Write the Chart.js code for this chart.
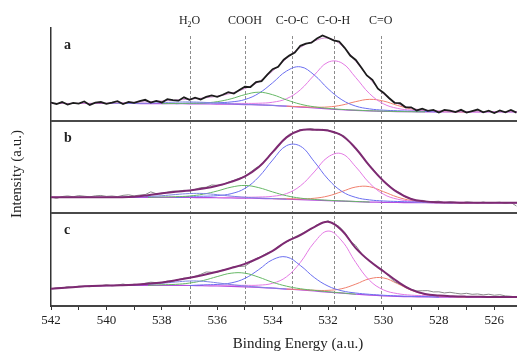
<!DOCTYPE html>
<html lang="en">
<head>
<meta charset="UTF-8">
<title>O 1s XPS spectra</title>
<style>
    body, html {
        margin: 0;
        background-color: #fff;
    }
    .chart-box {
        position: relative;
        width: 517px;
        height: 355px;
    }
</style>
</head>
<body>
<div class="chart-box"><canvas id="xpsChart"></canvas></div>

<script src="https://cdn.jsdelivr.net/npm/chart.js"></script>
<script>
    const _ = null;

    // peak assignments (dashed lines) and panel names
    const peakLabels = ['H2O', 'COOH', 'C-O-C', 'C-O-H', 'C=O'];
    const peakEnergy = [537.0, 535.0, 533.3, 531.8, 530.1];
    const panelNames = ['a', 'b', 'c'];

    // energy grid of the fitted curves (eV)
    const fitE = [542, 541.5, 541, 540.5, 540, 539.5, 539, 538.5, 538, 537.5, 537, 536.5, 536, 535.5, 535, 534.5, 534, 533.5, 533, 532.5,
        532, 531.5, 531, 530.5, 530, 529.5, 529, 528.5, 528, 527.5, 527, 526.5, 526, 525.5, 525];

    // energy grid of the measured spectra (eV)
    const rawE = [542, 541.8, 541.6, 541.4, 541.2, 541, 540.8, 540.6, 540.4, 540.2,
        540, 539.8, 539.6, 539.4, 539.2, 539, 538.8, 538.6, 538.4, 538.2,
        538, 537.8, 537.6, 537.4, 537.2, 537, 536.8, 536.6, 536.4, 536.2,
        536, 535.8, 535.6, 535.4, 535.2, 535, 534.8, 534.6, 534.4, 534.2,
        534, 533.8, 533.6, 533.4, 533.2, 533, 532.8, 532.6, 532.4, 532.2,
        532, 531.8, 531.6, 531.4, 531.2, 531, 530.8, 530.6, 530.4, 530.2,
        530, 529.8, 529.6, 529.4, 529.2, 529, 528.8, 528.6, 528.4, 528.2,
        528, 527.8, 527.6, 527.4, 527.2, 527, 526.8, 526.6, 526.4, 526.2,
        526, 525.8, 525.6, 525.4, 525.2];

    // ---- panel a ----
    const rawA = [19.4, 18.0, 20.1, 17.4, 19.1, 18.4, 20.8, 17.0, 19.4, 20.1,
        18.1, 19.4, 21.1, 18.0, 20.2, 19.3, 21.1, 22.5, 19.6, 21.3,
        19.7, 23.2, 22.2, 21.6, 25.2, 22.6, 24.8, 22.9, 25.7, 27.3,
        25.7, 28.0, 30.8, 29.3, 33.1, 36.6, 36.3, 41.7, 42.7, 49.5,
        55.6, 58.1, 65.8, 70.2, 73.5, 80.8, 83.1, 84.2, 88.6, 92.0,
        89.5, 86.6, 85.4, 78.6, 70.3, 65.5, 57.4, 48.8, 44.0, 34.5,
        30.2, 24.5, 19.3, 18.9, 14.5, 14.4, 11.0, 12.9, 10.6, 11.6,
        8.7, 11.7, 10.8, 9.2, 11.7, 8.7, 10.4, 12.0, 9.0, 10.7,
        8.2, 11.0, 9.1, 11.5, 8.7];
    const envA = [18.6, 18.6, 18.7, 18.8, 19.0, 19.3, 19.8, 20.4, 21.2, 22.2, 23.2, 24.5, 26.4, 29.6, 34.6, 42.0, 53.5, 67.0, 79.0, 86.0,
        89.0, 81.0, 64.0, 45.5, 29.0, 18.5, 13.5, 11.3, 10.5, 10.1, 9.9, 9.8, 9.7, 9.7, 9.7];
    const bgA = [18.5, 18.5, 18.5, 18.5, 18.5, 18.5, 18.5, 18.4, 18.4, 18.3, 18.2, 18.1, 17.9, 17.7, 17.4, 17.0, 16.4, 15.6, 14.7, 13.7,
        12.7, 11.8, 11.1, 10.5, 10.1, 9.8, 9.6, 9.5, 9.4, 9.4, 9.4, 9.4, 9.4, 9.4, 9.4];
    const h2oA = [_, _, _, _, 18.5, 18.55, 18.7, 18.9, 19.4, 20.0, 20.2, 19.8, 18.9, 18.2, 17.6, 17.1, 16.45, 15.6, _, _,
        _, _, _, _, _, _, _, _, _, _, _, _, _, _, _];
    const coohA = [_, _, _, _, _, _, _, _, 18.4, 18.6, 18.7, 19.1, 20.5, 23.6, 28.1, 30.7, 28.0, 22.45, 17.8, 14.95,
        13.25, 12.15, 11.35, 10.7, 10.25, 9.9, 9.65, 9.5, _, _, _, _, _, _, _];
    const cocA = [_, _, _, _, _, _, _, _, _, 18.3, 18.9, 19.0, 19.3, 20.2, 22.8, 29.5, 40.9, 53.5, 58.1, 49.3,
        34.45, 22.5, 15.7, 12.7, 11.35, 10.7, 10.3, 10.0, 9.4, _, _, _, _, _, _];
    const cohA = [_, _, _, _, _, _, _, _, _, _, _, _, 17.9, 18.6, 18.6, 18.8, 19.9, 23.7, 33.3, 49.1,
        63.1, 62.2, 46.5, 29.1, 18.2, 13.3, 11.4, 10.7, 10.3, 10.1, 9.7, 9.4, _, _, _];
    const coA = [_, _, _, _, _, _, _, _, _, _, _, _, _, _, _, _, _, 15.6, 15.1, 14.6,
        14.8, 16.8, 20.55, 23.0, 21.15, 16.5, 12.7, 10.7, 9.95, 9.7, 9.4, _, _, _, _];

    // ---- panel b ----
    const rawB = [17.6, 16.1, 18.1, 18.8, 17.9, 19.1, 18.5, 17.8, 18.9, 19.3,
        18.3, 18.7, 18.0, 19.4, 20.0, 18.8, 19.7, 20.2, 23.2, 21.2,
        21.0, 22.8, 24.0, 23.9, 24.9, 24.2, 25.9, 27.7, 28.1, 30.6,
        30.2, 30.9, 33.8, 35.5, 38.0, 39.5, 44.5, 49.0, 52.4, 59.5,
        66.8, 72.5, 79.6, 85.2, 87.5, 90.4, 90.5, 91.5, 89.7, 90.6,
        89.8, 86.9, 85.7, 83.1, 76.7, 70.5, 62.7, 54.6, 48.8, 41.1,
        34.7, 30.0, 25.0, 22.1, 17.2, 15.8, 13.5, 14.0, 12.4, 12.7,
        13.1, 11.4, 12.5, 11.9, 11.0, 12.4, 11.9, 11.0, 12.2, 11.1,
        11.6, 12.0, 10.6, 11.7, 7.9];
    const envB = [17.3, 17.3, 17.3, 17.3, 17.3, 17.4, 18.0, 19.6, 21.6, 23.3, 24.6, 26.7, 29.7, 34.0, 40.0, 50.0, 66.0, 82.0, 89.7, 90.2,
        89.3, 84.0, 70.0, 51.2, 35.0, 22.8, 15.5, 12.9, 11.9, 11.6, 11.5, 11.45, 11.4, 11.4, 11.4];
    const bgB = [17.3, 17.3, 17.3, 17.3, 17.3, 17.3, 17.3, 17.3, 17.25, 17.2, 17.1, 17.0, 16.8, 16.6, 16.4, 16.1, 15.8, 15.3, 14.8, 14.25,
        13.7, 13.15, 12.6, 12.2, 11.9, 11.7, 11.5, 11.4, 11.3, 11.3, 11.3, 11.3, 11.3, 11.3, 11.3];
    const h2oB = [_, _, _, _, _, 17.3, 17.7, 18.15, 19.0, 20.3, 21.35, 21.4, 20.15, 18.6, 17.35, 16.55, 16.0, 15.3, _, _,
        _, _, _, _, _, _, _, _, _, _, _, _, _, _, _];
    const coohB = [_, _, _, _, _, _, _, 17.3, 17.65, 17.95, 18.7, 20.7, 24.1, 28.2, 30.1, 27.7, 23.1, 19.0, 16.4, 15.0,
        14.1, 13.4, 12.8, 12.2, _, _, _, _, _, _, _, _, _, _, _];
    const cocB = [_, _, _, _, _, _, _, _, _, 17.2, 18.2, 18.45, 19.1, 21.2, 26.9, 39.3, 57.5, 73.0, 72.5, 55.95,
        36.9, 23.65, 17.2, 14.5, 13.35, 12.8, 12.35, 12.05, 11.9, 11.3, _, _, _, _, _];
    const cohB = [_, _, _, _, _, _, _, _, _, _, _, _, 16.8, 17.4, 17.4, 17.6, 18.4, 21.3, 29.6, 44.65,
        60.8, 64.25, 50.2, 32.5, 20.7, 15.3, 13.3, 12.55, 12.15, 12.0, 11.85, 11.3, _, _, _];
    const coB = [_, _, _, _, _, _, _, _, _, _, _, _, _, _, _, _, 15.8, 15.75, 15.65, 16.25,
        18.7, 23.5, 28.4, 28.75, 23.4, 17.6, 13.9, 12.4, 11.8, 11.65, 11.3, _, _, _, _];

    // ---- panel c ----
    const rawC = [18.6, 19.5, 19.3, 20.9, 20.0, 21.4, 21.3, 20.8, 22.1, 21.8,
        22.9, 21.8, 22.6, 23.7, 22.4, 23.5, 22.8, 24.6, 25.7, 25.2,
        25.2, 26.9, 26.8, 28.5, 30.1, 30.1, 32.1, 34.1, 36.7, 36.4,
        36.4, 39.0, 39.9, 42.4, 42.6, 43.0, 46.9, 51.0, 53.6, 57.1,
        59.1, 64.1, 67.8, 70.5, 74.5, 77.5, 80.3, 83.1, 87.6, 89.6,
        92.0, 89.0, 85.8, 79.5, 70.1, 65.3, 57.0, 50.6, 46.6, 41.5,
        38.0, 31.8, 26.3, 23.6, 21.1, 18.0, 16.3, 16.5, 16.6, 15.2,
        15.3, 14.1, 14.8, 13.8, 13.0, 13.7, 12.6, 13.0, 12.0, 12.7,
        11.6, 12.2, 10.9, 10.5, 9.7];
    const envC = [18.6, 19.8, 20.8, 21.5, 22.0, 22.4, 23.0, 24.0, 25.4, 27.7, 30.4, 33.5, 37.0, 41.0, 45.5, 51.8, 59.5, 69.5, 76.5, 85.2,
        90.8, 81.5, 62.5, 48.5, 37.5, 26.5, 17.6, 13.0, 11.3, 10.5, 10.1, 9.9, 9.8, 9.7, 9.7];
    const bgC = [18.6, 19.8, 20.8, 21.5, 22.0, 22.2, 22.3, 22.3, 22.3, 22.2, 22.1, 21.9, 21.6, 21.2, 20.7, 20.0, 19.2, 18.3, 17.3, 16.2,
        15.0, 13.8, 12.7, 11.8, 11.0, 10.4, 10.0, 9.8, 9.6, 9.5, 9.5, 9.5, 9.5, 9.5, 9.5];
    const h2oC = [_, _, _, _, _, 22.2, 22.8, 23.4, 24.5, 25.9, 27.0, 26.6, 25.0, 23.15, 21.6, 20.4, 19.4, 18.3, _, _,
        _, _, _, _, _, _, _, _, _, _, _, _, _, _, _];
    const coohC = [_, _, _, _, _, _, _, 22.3, 22.9, 23.35, 24.75, 27.55, 31.75, 35.4, 35.4, 31.1, 25.6, 21.4, 18.65, 16.9,
        15.4, 14.1, 12.7, _, _, _, _, _, _, _, _, _, _, _, _];
    const cocC = [_, _, _, _, _, _, _, _, _, _, 22.1, 22.8, 23.3, 24.9, 29.8, 39.3, 50.0, 52.9, 43.7, 30.8,
        21.5, 16.4, 14.0, 12.6, 11.6, 10.9, 10.4, 10.15, 9.6, _, _, _, _, _, _];
    const cohC = [_, _, _, _, _, _, _, _, _, _, _, 21.9, 22.5, 22.4, 22.3, 22.5, 24.5, 31.5, 47.0, 68.5,
        80.9, 70.2, 47.0, 27.6, 17.4, 13.4, 11.7, 11.1, 10.6, 10.3, 10.1, 9.5, _, _, _];
    const coC = [_, _, _, _, _, _, _, _, _, _, _, _, _, _, _, _, _, 18.3, 17.8, 17.0,
        16.9, 18.7, 23.6, 29.4, 30.3, 24.2, 17.05, 12.6, 10.75, 10.1, 9.5, _, _, _, _];

    const compColors = ['#7d86e4', '#66b866', '#6b6ff0', '#e47ae4', '#f0806e'];

    const panels = [
        {axis: 'yA', raw: rawA, env: envA, bg: bgA, comps: [h2oA, coohA, cocA, cohA, coA],
            rawColor: '#1c1c1c', rawWidth: 1.8, envColor: '#d590d5', envWidth: 1, rawTop: true},
        {axis: 'yB', raw: rawB, env: envB, bg: bgB, comps: [h2oB, coohB, cocB, cohB, coB],
            rawColor: '#8a8a8a', rawWidth: 1, envColor: '#7d2a72', envWidth: 2, rawTop: false},
        {axis: 'yC', raw: rawC, env: envC, bg: bgC, comps: [h2oC, coohC, cocC, cohC, coC],
            rawColor: '#8a8a8a', rawWidth: 1, envColor: '#7d2a72', envWidth: 2, rawTop: false}
    ];

    function series(label, xs, ys, axis, color, width, order, tension) {
        return {
            label: label,
            data: xs.map((x, i) => ({x: x, y: ys[i]})),
            yAxisID: axis,
            borderColor: color,
            borderWidth: width,
            order: order,
            tension: tension,
            pointRadius: 0,
            fill: false,
            spanGaps: false
        };
    }

    const datasets = [];
    panels.forEach((p, k) => {
        datasets.push(series('raw ' + panelNames[k], rawE, p.raw, p.axis, p.rawColor, p.rawWidth, p.rawTop ? 0 : 1, 0));
        datasets.push(series('fit ' + panelNames[k], fitE, p.env, p.axis, p.envColor, p.envWidth, p.rawTop ? 1 : 0, 0.4));
        p.comps.forEach((c, j) => {
            datasets.push(series(peakLabels[j] + ' ' + panelNames[k], fitE, c, p.axis, compColors[j], 1, 2 + j, 0.4));
        });
        datasets.push(series('background ' + panelNames[k], fitE, p.bg, p.axis, '#b64ee0', 1.2, 8, 0.4));
    });

    const serif = '"Liberation Serif", "Times New Roman", serif';
    Chart.defaults.font.family = serif;
    Chart.defaults.color = '#222';

    function panelAxis(weight) {
        return {
            type: 'linear', position: 'left', stack: 'panels', stackWeight: 1, weight: weight,
            min: 0, max: 100,
            ticks: {display: false},
            grid: {display: false},
            border: {display: true, color: '#333', width: 1.5},
            afterFit: s => { s.width = 51; }
        };
    }

    // text drawn with digits as subscripts (H2O)
    function subText(ctx, text, cx, y, size) {
        const parts = text.split(/(\d)/).filter(s => s.length);
        const widths = parts.map(s => {
            ctx.font = (/\d/.test(s) ? size * 0.65 : size) + 'px ' + serif;
            return ctx.measureText(s).width;
        });
        let x = cx - widths.reduce((a, b) => a + b, 0) / 2;
        parts.forEach((s, i) => {
            const sub = /\d/.test(s);
            ctx.font = (sub ? size * 0.65 : size) + 'px ' + serif;
            ctx.fillText(s, x, sub ? y + 3 : y);
            x += widths[i];
        });
    }

    const decor = {
        id: 'decor',
        beforeDatasetsDraw(chart) {
            const {ctx, chartArea, scales} = chart;
            ctx.save();
            ctx.strokeStyle = '#8c8c8c';
            ctx.lineWidth = 1;
            ctx.setLineDash([3, 2]);
            peakEnergy.forEach(e => {
                const px = Math.round(scales.x.getPixelForValue(e)) + 0.5;
                ctx.beginPath();
                ctx.moveTo(px, 36);
                ctx.lineTo(px, chartArea.bottom);
                ctx.stroke();
            });
            ctx.restore();
        },
        afterDraw(chart) {
            const {ctx, chartArea, scales} = chart;
            ctx.save();
            // panel separators
            ctx.strokeStyle = '#4a4a4a';
            ctx.lineWidth = 2;
            ['yA', 'yB'].forEach(id => {
                const y = Math.round(scales[id].bottom);
                ctx.beginPath();
                ctx.moveTo(chartArea.left, y);
                ctx.lineTo(chartArea.right, y);
                ctx.stroke();
            });

            ctx.fillStyle = '#222';
            ctx.textBaseline = 'alphabetic';
            ctx.textAlign = 'left';
            peakLabels.forEach((t, i) => {
                subText(ctx, t, scales.x.getPixelForValue(peakEnergy[i]), 24, 12);
            });

            ctx.font = 'bold 14px ' + serif;
            ['yA', 'yB', 'yC'].forEach((id, i) => {
                ctx.fillText(panelNames[i], chartArea.left + 13, scales[id].top + 21);
            });

            ctx.textAlign = 'center';
            ctx.font = '15px ' + serif;
            ctx.fillText('Binding Energy (a.u.)', 298, 348);

            ctx.translate(21, 174);
            ctx.rotate(-Math.PI / 2);
            ctx.fillText('Intensity (a.u.)', 0, 0);
            ctx.restore();
        }
    };

    new Chart(document.getElementById('xpsChart'), {
        type: 'line',
        data: {datasets: datasets},
        options: {
            responsive: true,
            maintainAspectRatio: false,
            animation: false,
            events: [],
            layout: {padding: {top: 28, left: 0, right: 0, bottom: 0}},
            plugins: {legend: {display: false}, tooltip: {enabled: false}},
            scales: {
                x: {
                    type: 'linear', reverse: true, min: 525.18, max: 542,
                    ticks: {
                        stepSize: 1, includeBounds: false, autoSkip: false, maxRotation: 0,
                        padding: 3, color: '#222', font: {size: 13},
                        callback: v => (v % 2 === 0 ? String(v) : '')
                    },
                    grid: {drawOnChartArea: false, tickLength: 4, color: '#333'},
                    border: {color: '#444', width: 2},
                    afterFit: s => { s.height = 49; }
                },
                yC: panelAxis(1),
                yB: panelAxis(2),
                yA: panelAxis(3)
            }
        },
        plugins: [decor]
    });
</script>
</body>
</html>
